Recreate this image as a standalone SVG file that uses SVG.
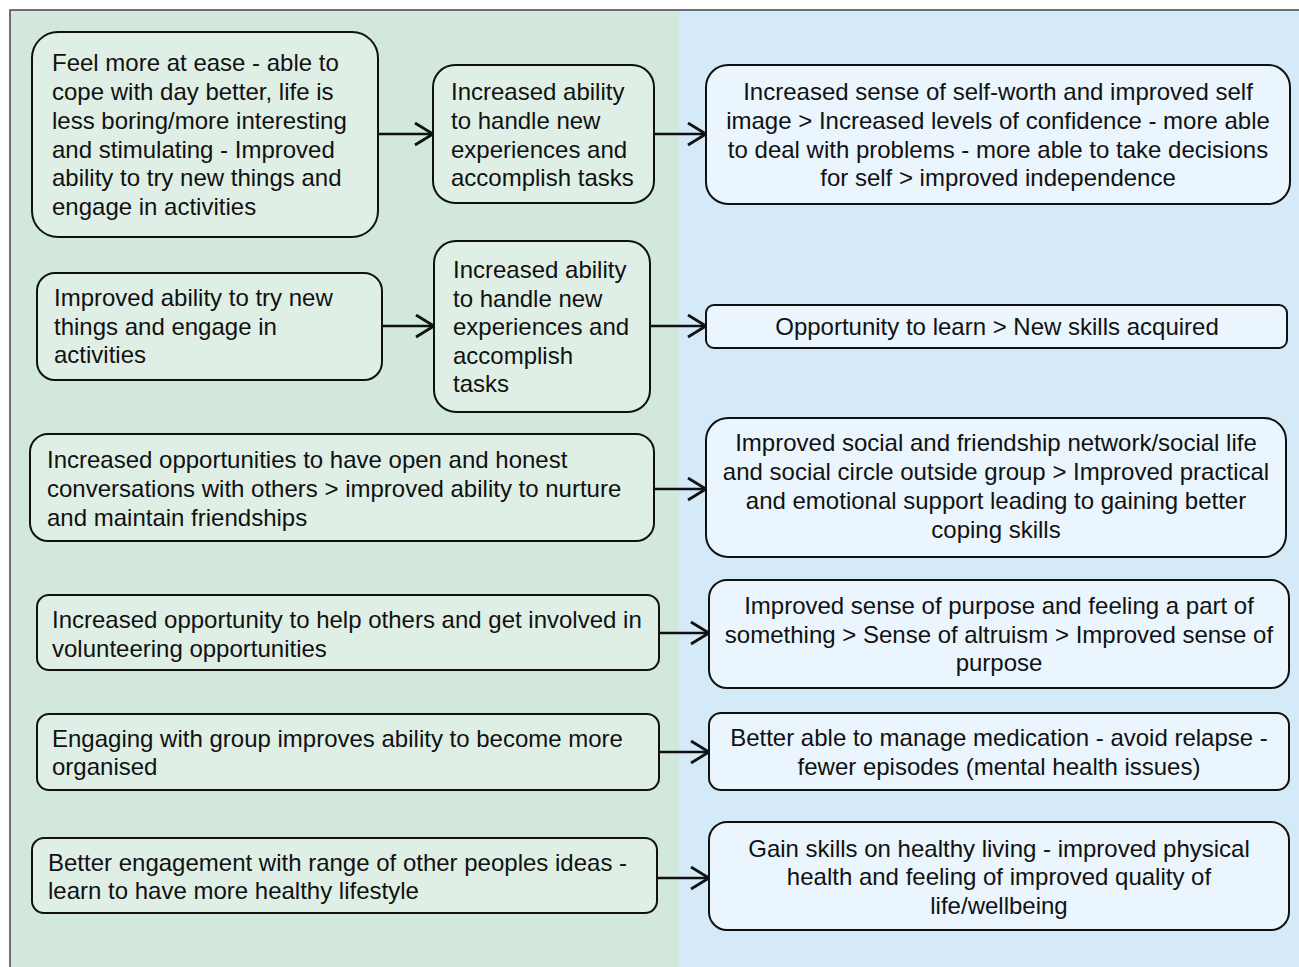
<svg xmlns="http://www.w3.org/2000/svg" width="1299" height="967" viewBox="0 0 1299 967">
<style>
.g{fill:#e0efe6;stroke:#111;stroke-width:2}
.b{fill:#eaf5fd;stroke:#111;stroke-width:2}
text{font-family:"Liberation Sans",Arial,sans-serif;font-size:24px;fill:#111}
.c{text-anchor:middle}
.ln{stroke:#111;stroke-width:2.5;fill:none;marker-end:url(#arr)}
</style>
<defs>
<marker id="arr" markerUnits="userSpaceOnUse" markerWidth="22" markerHeight="26" refX="19" refY="12" orient="auto" viewBox="0 0 22 26">
<path d="M1,1 L19,12 L1,23" fill="none" stroke="#111" stroke-width="2.8"/>
</marker>
</defs>
<rect x="0" y="0" width="1299" height="967" fill="#ffffff"/>
<rect x="10" y="10" width="669" height="970" fill="#d1e8da"/>
<rect x="679" y="10" width="625" height="970" fill="#d5eaf8"/>
<path d="M10,980 L10,10 L1299,10" fill="none" stroke="#444" stroke-width="1.5"/>

<g id="connectors">
<line class="ln" x1="378" y1="134" x2="433" y2="134"/>
<line class="ln" x1="654" y1="134" x2="706" y2="134"/>
<line class="ln" x1="382" y1="326" x2="434" y2="326"/>
<line class="ln" x1="650" y1="326" x2="706" y2="326"/>
<line class="ln" x1="654" y1="489" x2="706" y2="489"/>
<line class="ln" x1="659" y1="633" x2="709" y2="633"/>
<line class="ln" x1="659" y1="752" x2="709" y2="752"/>
<line class="ln" x1="657" y1="878" x2="709" y2="878"/>
</g>

<g id="a1"><rect class="g" x="32" y="32" width="346" height="205" rx="26"/>
<text x="52" y="71">Feel more at ease - able to</text>
<text x="52" y="100">cope with day better, life is</text>
<text x="52" y="129">less boring/more interesting</text>
<text x="52" y="158">and stimulating - Improved</text>
<text x="52" y="186">ability to try new things and</text>
<text x="52" y="215">engage in activities</text></g>

<g id="a2"><rect class="g" x="433" y="65" width="221" height="138" rx="22"/>
<text x="451" y="100">Increased ability</text>
<text x="451" y="129">to handle new</text>
<text x="451" y="158">experiences and</text>
<text x="451" y="186">accomplish tasks</text></g>

<g id="a3"><rect class="b" x="706" y="65" width="584" height="139" rx="22"/>
<text class="c" x="998" y="100">Increased sense of self-worth and improved self</text>
<text class="c" x="998" y="129">image &gt; Increased levels of confidence - more able</text>
<text class="c" x="998" y="158">to deal with problems - more able to take decisions</text>
<text class="c" x="998" y="186">for self &gt; improved independence</text></g>

<g id="b1"><rect class="g" x="37" y="273" width="345" height="107" rx="18"/>
<text x="54" y="306">Improved ability to try new</text>
<text x="54" y="335">things and engage in</text>
<text x="54" y="363">activities</text></g>

<g id="b2"><rect class="g" x="434" y="241" width="216" height="171" rx="22"/>
<text x="453" y="278">Increased ability</text>
<text x="453" y="307">to handle new</text>
<text x="453" y="335">experiences and</text>
<text x="453" y="364">accomplish</text>
<text x="453" y="392">tasks</text></g>

<g id="b3"><rect class="b" x="706" y="305" width="581" height="43" rx="8"/>
<text class="c" x="997" y="335">Opportunity to learn &gt; New skills acquired</text></g>

<g id="c1"><rect class="g" x="30" y="434" width="624" height="107" rx="18"/>
<text x="47" y="468">Increased opportunities to have open and honest</text>
<text x="47" y="497">conversations with others &gt; improved ability to nurture</text>
<text x="47" y="526">and maintain friendships</text></g>

<g id="c2"><rect class="b" x="706" y="418" width="580" height="139" rx="22"/>
<text class="c" x="996" y="451">Improved social and friendship network/social life</text>
<text class="c" x="996" y="480">and social circle outside group &gt; Improved practical</text>
<text class="c" x="996" y="509">and emotional support leading to gaining better</text>
<text class="c" x="996" y="538">coping skills</text></g>

<g id="d1"><rect class="g" x="37" y="595" width="622" height="75" rx="12"/>
<text x="52" y="628">Increased opportunity to help others and get involved in</text>
<text x="52" y="657">volunteering opportunities</text></g>

<g id="d2"><rect class="b" x="709" y="580" width="580" height="108" rx="18"/>
<text class="c" x="999" y="614">Improved sense of purpose and feeling a part of</text>
<text class="c" x="999" y="643">something &gt; Sense of altruism &gt; Improved sense of</text>
<text class="c" x="999" y="671">purpose</text></g>

<g id="e1"><rect class="g" x="37" y="714" width="622" height="76" rx="12"/>
<text x="52" y="747">Engaging with group improves ability to become more</text>
<text x="52" y="775">organised</text></g>

<g id="e2"><rect class="b" x="709" y="713" width="580" height="77" rx="12"/>
<text class="c" x="999" y="746">Better able to manage medication - avoid relapse -</text>
<text class="c" x="999" y="775">fewer episodes (mental health issues)</text></g>

<g id="f1"><rect class="g" x="32" y="838" width="625" height="75" rx="12"/>
<text x="48" y="871">Better engagement with range of other peoples ideas -</text>
<text x="48" y="899">learn to have more healthy lifestyle</text></g>

<g id="f2"><rect class="b" x="709" y="822" width="580" height="108" rx="18"/>
<text class="c" x="999" y="857">Gain skills on healthy living - improved physical</text>
<text class="c" x="999" y="885">health and feeling of improved quality of</text>
<text class="c" x="999" y="914">life/wellbeing</text></g>
</svg>
